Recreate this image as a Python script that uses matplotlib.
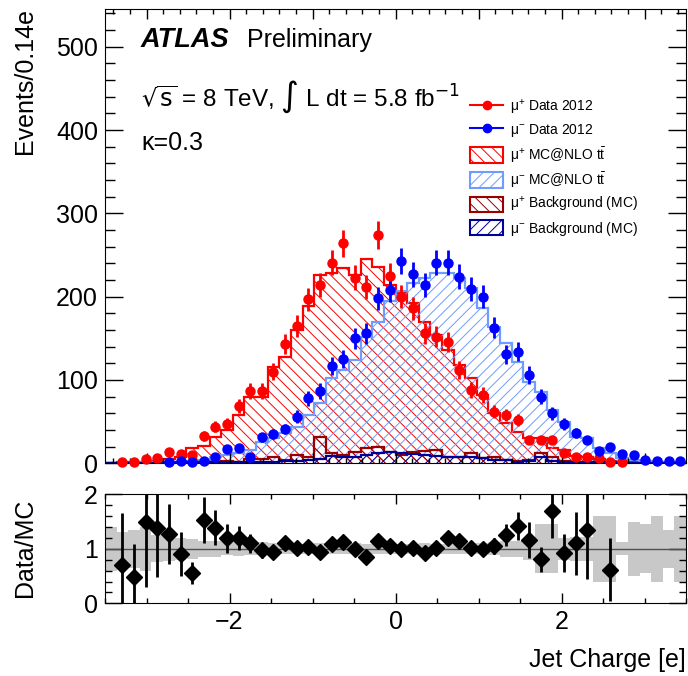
"""Jet charge for mu+ / mu- events, data vs MC@NLO ttbar, with Data/MC ratio."""

import numpy as np
import matplotlib
matplotlib.use('Agg')
import matplotlib.pyplot as plt
from matplotlib.lines import Line2D
from matplotlib.patches import Patch
from matplotlib.ticker import MultipleLocator

plt.rcParams['font.family'] = 'Liberation Sans'
plt.rcParams['mathtext.fontset'] = 'custom'
plt.rcParams['mathtext.rm'] = 'Liberation Sans'
plt.rcParams['mathtext.it'] = 'Liberation Sans:italic'
plt.rcParams['mathtext.bf'] = 'Liberation Sans:bold'
plt.rcParams['hatch.linewidth'] = 0.7

nan = np.nan
edges = np.linspace(-3.5, 3.5, 51)   # 50 bins of 0.14 e

# mu+ / mu- data, events per bin
plus_data = [nan, 1, 1, 5, 6, 13, 11, 10, 33, 44,
             47, 69, 87, 87, 110, 143, 165, 197, 214, 241,
             264, 223, 212, 274, 225, 200, 186, 156, 152, 146,
             112, 88, 82, 62, 58, 52, 28, 28, 28, 12,
             8, 7, 6, 1, 1, nan, nan, nan, nan, nan]
minus_data = [nan, nan, nan, nan, nan, 1, 3, 2, 3, 8,
              17, 18, 8, 31, 35, 41, 56, 78, 87, 117,
              125, 150, 156, 198, 208, 243, 227, 214, 241, 241,
              224, 209, 200, 163, 131, 134, 106, 80, 60, 47,
              36, 28, 15, 19, 11, 10, 4, 3, 3, 3]

# MC@NLO ttbar
plus_mc = [0.5, 1, 1, 2, 3, 5, 8, 18, 21, 31,
           40, 58, 79, 79, 116, 128, 160, 189, 226, 228,
           234, 226, 245, 236, 214, 204, 192, 170, 154, 136,
           118, 102, 82, 60, 48, 38, 30, 30, 18, 16,
           9, 7, 5, 3, 2, 2, 1, 1, 0.5, 0.5]
minus_mc = [0.5, 0.5, 0.5, 1, 1, 1.5, 2, 3, 4, 8,
            10, 12, 16, 26, 30, 36, 44, 58, 72, 102,
            112, 124, 152, 170, 195, 207, 216, 222, 229, 228,
            222, 210, 186, 164, 145, 122, 98, 85, 64, 49,
            32, 30, 18, 12, 6, 4, 3, 2, 1, 1]

# backgrounds (MC)
plus_bkg = [0, 0, 0, 0.5, 0.5, 1, 1, 1.5, 2, 2,
            3, 2, 5, 5, 8, 4, 10, 8, 32, 12,
            10, 14, 18, 20, 14, 10, 14, 15, 16, 8,
            7, 12, 6, 7, 4, 3, 4, 12, 8, 3,
            2, 2, 1, 1, 0.5, 0.5, 0, 0, 0, 0]
minus_bkg = [0, 0, 0, 0, 0.5, 0.5, 0.5, 1, 1, 1,
             1, 1, 1.5, 2, 2, 3, 3, 4, 5, 9,
             8, 8, 10, 12, 14, 12, 11, 10, 9, 8,
             8, 7, 6, 4, 4, 2, 3, 7, 3, 2,
             2, 1, 1, 1, 0.5, 0.5, 0.5, 0, 0, 0]

# Data/MC
ratio = [nan, 0.70, 0.48, 1.50, 1.38, 1.28, 0.90, 0.55, 1.53, 1.39,
         1.19, 1.19, 1.10, 0.97, 0.95, 1.11, 1.01, 1.03, 0.95, 1.09,
         1.13, 0.99, 0.85, 1.15, 1.05, 1.00, 1.02, 0.93, 1.01, 1.19,
         1.14, 1.02, 1.00, 1.05, 1.25, 1.42, 1.16, 0.81, 1.70, 0.92,
         1.10, 1.35, nan, 0.62, nan, nan, nan, nan, nan, nan]
ratio_err = [nan, 0.95, 0.60, 1.20, 0.90, 0.55, 0.40, 0.20, 0.42, 0.32,
             0.27, 0.22, 0.18, 0.13, 0.12, 0.10, 0.09, 0.08, 0.08, 0.08,
             0.08, 0.08, 0.07, 0.08, 0.08, 0.08, 0.08, 0.08, 0.08, 0.10,
             0.10, 0.10, 0.12, 0.14, 0.20, 0.25, 0.33, 0.23, 0.50, 0.35,
             0.58, 0.90, nan, 0.57, nan, nan, nan, nan, nan, nan]
band_err = [0.40, 0.30, 0.35, 0.40, 0.25, 0.22, 0.20, 0.18, 0.15, 0.15,
            0.12, 0.13, 0.12, 0.12, 0.10, 0.10, 0.09, 0.09, 0.10, 0.09,
            0.09, 0.10, 0.09, 0.09, 0.09, 0.09, 0.09, 0.10, 0.09, 0.09,
            0.10, 0.10, 0.10, 0.12, 0.15, 0.15, 0.20, 0.45, 0.45, 0.20,
            0.22, 0.22, 0.60, 0.60, 0.12, 0.50, 0.45, 0.60, 0.35, 0.60]

red, blue = '#ff0000', '#0000ff'
lblue, dred, dblue = '#6f9cff', '#990000', '#000099'
back, fwd = '\\' * 3, '/' * 3   # hatch patterns

centers = 0.5 * (edges[:-1] + edges[1:])
plus_data = np.array(plus_data)
minus_data = np.array(minus_data)
band_err = np.array(band_err)

fig = plt.figure(figsize=(6.88, 6.76), dpi=100)
ax = fig.add_axes([105 / 688, 1 - 463.3 / 676, 581 / 688, 454 / 676])
rax = fig.add_axes([105 / 688, 1 - 603.3 / 676, 581 / 688, 109 / 676])

# hatched MC histograms
for vals, col, hatch in [(plus_mc, red, back), (minus_mc, lblue, fwd),
                         (plus_bkg, dred, back), (minus_bkg, dblue, fwd)]:
    ax.stairs(vals, edges, fill=True, facecolor='none', edgecolor=col,
              hatch=hatch, lw=0)
    ax.stairs(vals, edges, color=col, lw=1.6)

for vals, col in [(plus_data, red), (minus_data, blue)]:
    eb = ax.errorbar(centers, vals, yerr=np.sqrt(vals), fmt='o', color=col,
                     ms=6.5, elinewidth=2, capsize=0, zorder=5)
    for art in eb.lines[0:1] + tuple(eb.lines[2]):
        art.set_clip_on(False)

ax.set_xlim(-3.5, 3.5)
ax.set_ylim(0, 545)
ax.xaxis.set_major_locator(MultipleLocator(1))
ax.xaxis.set_minor_locator(MultipleLocator(0.2))
ax.yaxis.set_major_locator(MultipleLocator(100))
ax.yaxis.set_minor_locator(MultipleLocator(20))
ax.tick_params(which='both', direction='in', top=True, right=True,
               labelbottom=False, labelsize=18, width=1)
ax.tick_params(axis='x', which='major', length=7)
ax.tick_params(axis='x', which='minor', length=3.6)
ax.tick_params(axis='y', which='major', length=13, pad=5)
ax.tick_params(axis='y', which='minor', length=7)

ax.text(0.062, 0.932, 'ATLAS', transform=ax.transAxes, fontsize=19.5,
        fontweight='bold', style='italic', va='center')
ax.text(0.245, 0.932, 'Preliminary', transform=ax.transAxes, fontsize=18,
        va='center')
ax.text(0.062, 0.807, r'$\sqrt{\mathrm{s}}$ = 8 TeV, $\int$ L dt = 5.8 fb$^{\mathrm{-1}}$',
        transform=ax.transAxes, fontsize=17.5, va='center',
        math_fontfamily='dejavusans')
ax.text(0.062, 0.705, 'κ=0.3', transform=ax.transAxes, fontsize=18, va='center')

handles = [Line2D([], [], color=red, marker='o', ms=6, lw=1.5),
           Line2D([], [], color=blue, marker='o', ms=6, lw=1.5),
           Patch(facecolor='none', edgecolor=red, hatch=back, lw=1.5),
           Patch(facecolor='none', edgecolor=lblue, hatch=fwd, lw=1.5),
           Patch(facecolor='none', edgecolor=dred, hatch=back, lw=1.5),
           Patch(facecolor='none', edgecolor=dblue, hatch=fwd, lw=1.5)]
labels = ['μ$^{+}$ Data 2012', 'μ$^{-}$ Data 2012',
          r'μ$^{+}$ MC@NLO t$\bar{\mathrm{t}}$', r'μ$^{-}$ MC@NLO t$\bar{\mathrm{t}}$',
          'μ$^{+}$ Background (MC)', 'μ$^{-}$ Background (MC)']
ax.legend(handles, labels, loc='upper left', bbox_to_anchor=(0.628, 0.805),
          frameon=False, fontsize=10, borderpad=0, borderaxespad=0,
          handlelength=2.4, handleheight=1.3, labelspacing=0.39,
          handletextpad=0.5)

# ratio panel
rax.stairs(1 + band_err, edges, baseline=1 - band_err, fill=True,
           color='#c8c8c8', lw=0)
rax.axhline(1, color='#505050', lw=1)
rax.errorbar(centers, ratio, yerr=ratio_err, fmt='D', color='k', ms=8,
             elinewidth=2, capsize=0)
rax.set_xlim(-3.5, 3.5)
rax.set_ylim(0, 2)
rax.xaxis.set_major_locator(MultipleLocator(2))
rax.xaxis.set_minor_locator(MultipleLocator(0.5))
rax.yaxis.set_major_locator(MultipleLocator(1))
rax.yaxis.set_minor_locator(MultipleLocator(0.2))
rax.tick_params(which='both', direction='in', top=True, right=True,
                labelsize=18, width=1)
rax.tick_params(axis='x', which='major', length=7, pad=5)
rax.tick_params(axis='x', which='minor', length=3.6)
rax.tick_params(axis='y', which='major', length=12, pad=5)
rax.tick_params(axis='y', which='minor', length=5)

fig.text(25 / 688, 1 - 8 / 676, 'Events/0.14e', rotation=90, fontsize=18,
         ha='center', va='top')
fig.text(25 / 688, 1 - 548 / 676, 'Data/MC', rotation=90, fontsize=18,
         ha='center', va='center')
fig.text(686 / 688, 1 - 660 / 676, 'Jet Charge [e]', fontsize=18,
         ha='right', va='center')

fig.savefig('out.png', dpi=100)
